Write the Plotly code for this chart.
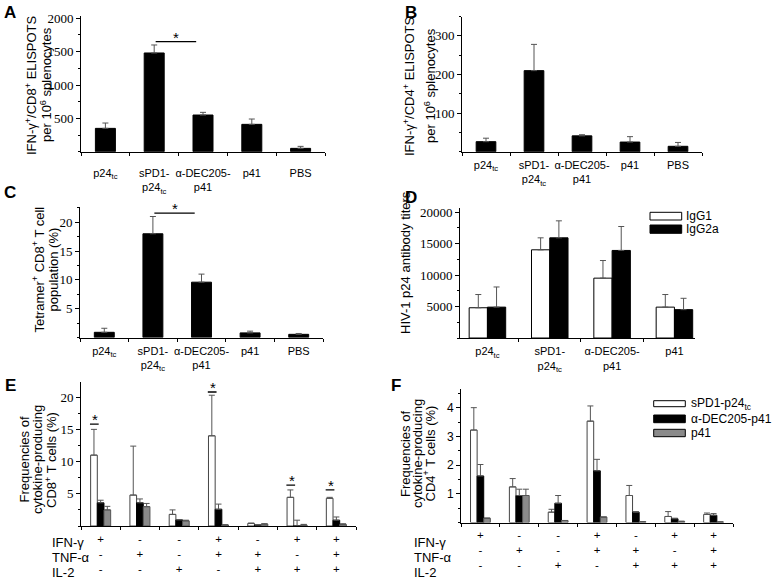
import plotly.graph_objects as go

W, H = 784, 581
def px(x): return x / W
def py(y): return 1 - y / H

# ---------------- data ----------------
groups = ["p24<sub>tc</sub>", "sPD1-<br>p24<sub>tc</sub>", "α-DEC205-<br>p41", "p41", "PBS"]

a_vals = [350, 1480, 550, 410, 50]
a_err = [80, 120, 40, 80, 30]

b_vals = [26, 210, 41, 25, 14]
b_err = [9, 68, 3, 14, 10]

c_vals = [0.9, 18.0, 9.6, 0.8, 0.55]
c_err = [0.7, 3.0, 1.4, 0.3, 0.15]

d_groups = groups[:4]
d_igg1 = [4800, 14000, 9500, 4900]
d_igg1_err = [2100, 1900, 2800, 2000]
d_igg2a = [4900, 15900, 13900, 4500]
d_igg2a_err = [3200, 2700, 3800, 1800]

ifn = ["+", "-", "-", "+", "-", "+", "+"]
tnf = ["-", "+", "-", "+", "+", "-", "+"]
il2 = ["-", "-", "+", "-", "+", "+", "+"]

e_spd1 = [11.0, 4.8, 1.8, 14.0, 0.4, 4.45, 4.3]
e_spd1_err = [4.0, 7.6, 0.7, 6.3, 0.05, 1.15, 0.15]
e_dec = [3.6, 3.6, 0.95, 2.6, 0.15, 0.05, 0.9]
e_dec_err = [0.4, 0.6, 0.05, 0.8, 0.05, 0.85, 0.5]
e_p41 = [2.5, 3.0, 0.8, 0.15, 0.3, 0.15, 0.25]
e_p41_err = [0.55, 0.5, 0.1, 0.05, 0.05, 0.1, 0.1]
e_sig_groups = [0, 3, 5, 6]
e_sig_y = [15.8, 20.8, 6.36, 5.6]

f_spd1 = [3.22, 1.24, 0.36, 3.53, 0.94, 0.21, 0.28]
f_spd1_err = [0.78, 0.29, 0.1, 0.53, 0.35, 0.17, 0.05]
f_dec = [1.62, 0.94, 0.67, 1.8, 0.36, 0.13, 0.25]
f_dec_err = [0.4, 0.22, 0.27, 0.4, 0.02, 0.02, 0.06]
f_p41 = [0.15, 0.94, 0.07, 0.19, 0.03, 0.04, 0.02]
f_p41_err = [0, 0.22, 0, 0, 0, 0, 0]

a_sig_y = 1650
c_sig_y = 21.6

combo = ["<br>".join(t) for t in zip(ifn, tnf, il2)]

SANS = "Liberation Sans, Arial, sans-serif"
SERIF = "Liberation Serif, Times New Roman, serif"
ERRC = "#555555"
GRAY = "#8a8a8a"

fig = go.Figure()

def add_bar(x, y, err, n, color, width, offset=None, lc="black"):
    fig.add_trace(go.Bar(
        x=x, y=y, width=width, offset=offset,
        marker=dict(color=color, line=dict(color=lc, width=1)),
        error_y=dict(type="data", array=err, arrayminus=[0] * len(err), symmetric=False,
                     color=ERRC, thickness=1, width=3),
        xaxis="x" + ("" if n == 1 else str(n)), yaxis="y" + ("" if n == 1 else str(n)),
        showlegend=False))

add_bar(groups, a_vals, a_err, 1, "black", 0.41)
add_bar(groups, b_vals, b_err, 2, "black", 0.41)
add_bar(groups, c_vals, c_err, 3, "black", 0.41)
add_bar(d_groups, d_igg1, d_igg1_err, 4, "white", 0.293, -0.293)
add_bar(d_groups, d_igg2a, d_igg2a_err, 4, "black", 0.293, 0.0)
bw = 0.17
add_bar(combo, e_spd1, e_spd1_err, 5, "white", bw, -1.5 * bw, lc="#444")
add_bar(combo, e_dec, e_dec_err, 5, "black", bw, -0.5 * bw)
add_bar(combo, e_p41, e_p41_err, 5, GRAY, bw, 0.5 * bw, lc="#555")
add_bar(combo, f_spd1, f_spd1_err, 6, "white", bw, -1.5 * bw, lc="#444")
add_bar(combo, f_dec, f_dec_err, 6, "black", bw, -0.5 * bw)
add_bar(combo, f_p41, f_p41_err, 6, GRAY, bw, 0.5 * bw, lc="#555")

def xax(x0, x1, anchor, ncat, fs=11, standoff=0):
    return dict(domain=[px(x0), px(x1)], anchor=anchor, type="category",
                range=[-0.5, ncat - 0.5], showline=True, linecolor="black", linewidth=1,
                ticks="outside", ticklen=3, tickcolor="black", tickson="boundaries",
                tickangle=0, showgrid=False, zeroline=False, ticklabelstandoff=standoff,
                tickfont=dict(family=SANS, size=fs, color="black"))

def yax(y_top, y_bot, anchor, rng, tickvals, minor_dtick, font=SERIF, fs=13):
    return dict(domain=[py(y_bot), py(y_top)], anchor=anchor, range=rng,
                showline=True, linecolor="black", linewidth=1, ticks="outside",
                ticklen=4, tickcolor="black", tickvals=tickvals, tickformat="d",
                showgrid=False, zeroline=False,
                tickfont=dict(family=font, size=fs, color="black"),
                minor=dict(dtick=minor_dtick, ticks="outside", ticklen=2,
                           tickcolor="black", showgrid=False))

fig.update_layout(
    width=W, height=H, margin=dict(l=0, r=0, t=0, b=0, autoexpand=False),
    paper_bgcolor="white", plot_bgcolor="white", barmode="overlay",
    xaxis=xax(81, 325, "y", 5, standoff=11),
    yaxis=yax(16.3, 151.7, "x", [0, 2030], [500, 1000, 1500, 2000], 250),
    xaxis2=xax(462, 702, "y2", 5, standoff=3),
    yaxis2=yax(16.6, 151.7, "x2", [0, 350], [100, 200, 300], 50),
    xaxis3=xax(80, 323, "y3", 5, standoff=3),
    yaxis3=yax(206.7, 337.5, "x3", [0, 22.7], [5, 10, 15, 20], 2.5),
    xaxis4=dict(xax(460, 695, "y4", 4, standoff=3), range=[-0.44, 3.33]),
    yaxis4=yax(207.6, 338, "x4", [0, 20700], [5000, 10000, 15000, 20000], 2500),
    xaxis5=xax(81, 356, "y5", 7, fs=11.5, standoff=2),
    yaxis5=yax(381.7, 526, "x5", [0, 22.4], [5, 10, 15, 20], 2.5),
    xaxis6=xax(461, 733, "y6", 7, fs=11.5, standoff=2),
    yaxis6=yax(389, 522.5, "x6", [0, 4.65], [1, 2, 3, 4], 0.5, font=SANS, fs=12),
)

ann = []
shapes = []

def text(x, y, s, size=12, bold=False, angle=0, xanchor="center", yanchor="middle", family=SANS):
    ann.append(dict(x=px(x), y=py(y), xref="paper", yref="paper", text=s, showarrow=False,
                    textangle=angle, xanchor=xanchor, yanchor=yanchor,
                    font=dict(family=family, size=size, color="black",
                              weight="bold" if bold else "normal")))

# panel letters
for L, x, y in [("A", 10, 12), ("B", 411, 12), ("C", 10, 192), ("D", 411, 198),
                ("E", 10, 385), ("F", 396, 385)]:
    text(x, y, L, size=17, bold=True)

# y titles
text(31, 85, "IFN-γ<sup>+</sup>/CD8<sup>+</sup> ELISPOTS", 13, angle=-90)
text(46, 85, "per 10<sup>6</sup> splenocytes", 13, angle=-90)
text(409, 86, "IFN-γ<sup>+</sup>/CD4<sup>+</sup> ELISPOTS", 13, angle=-90)
text(430, 86, "per 10<sup>6</sup> splenocytes", 13, angle=-90)
text(38.5, 270, "Tetramer<sup>+</sup> CD8<sup>+</sup> T cell", 13, angle=-90)
text(52.5, 270, "population (%)", 13, angle=-90)
text(405, 263, "HIV-1 p24 antibody titers", 13, angle=-90)
text(24.5, 460, "Frequencies of", 13, angle=-90)
text(38, 460, "cytokine-producing", 13, angle=-90)
text(51, 460, "CD8<sup>+</sup> T cells (%)", 13, angle=-90)
text(405, 454, "Frequencies of", 13, angle=-90)
text(417, 454, "cytokine-producing", 13, angle=-90)
text(429.5, 454, "CD4<sup>+</sup> T cells (%)", 13, angle=-90)

# row labels E / F
for x0 in (50, 412):
    for lab, y in zip(["IFN-γ", "TNF-α", "IL-2"], [542.7, 557.3, 572.7]):
        text(x0, y, lab, 13, xanchor="left")

# significance A, C
for n, ysig in [("", a_sig_y), ("3", c_sig_y)]:
    shapes.append(dict(type="line", xref="x" + n, yref="y" + n, x0=1.03, x1=1.86,
                       y0=ysig, y1=ysig, line=dict(color="black", width=1.3)))
    ann.append(dict(x=1.45, y=ysig, xref="x" + n, yref="y" + n, text="*", showarrow=False,
                    yanchor="bottom", yshift=-6, font=dict(family=SANS, size=15, color="black")))
# significance E
for g, ysig in zip(e_sig_groups, e_sig_y):
    shapes.append(dict(type="line", xref="x5", yref="y5", x0=g - 1.6 * bw, x1=g - 0.05,
                       y0=ysig, y1=ysig, line=dict(color="black", width=1.3)))
    ann.append(dict(x=g - 0.8 * bw, y=ysig, xref="x5", yref="y5", text="*", showarrow=False,
                    yanchor="bottom", yshift=-6, font=dict(family=SANS, size=15, color="black")))

# legends (D, F)
def swatch(x0, x1, y0, y1, color, label, tx):
    shapes.append(dict(type="rect", xref="paper", yref="paper", x0=px(x0), x1=px(x1),
                       y0=py(y1), y1=py(y0), fillcolor=color, line=dict(color="black", width=1)))
    text(tx, (y0 + y1) / 2, label, 12, xanchor="left")

swatch(650, 681.7, 212.3, 220, "white", "IgG1", 684)
swatch(650, 681.7, 225, 233.3, "black", "IgG2a", 684)
swatch(653.7, 685.3, 400.7, 406.7, "white", "sPD1-p24<sub>tc</sub>", 689)
swatch(653.7, 685.3, 415, 422.7, "black", "α-DEC205-p41", 689)
swatch(653.7, 685.3, 429.3, 436.7, GRAY, "p41", 689)

fig.update_layout(annotations=ann, shapes=shapes)
# remove the browser's default 8px page margin so the figure sits at (0, 0)
fig.write_html("out.html", config={"displayModeBar": False},
               post_script="document.body.style.margin='0px';")
